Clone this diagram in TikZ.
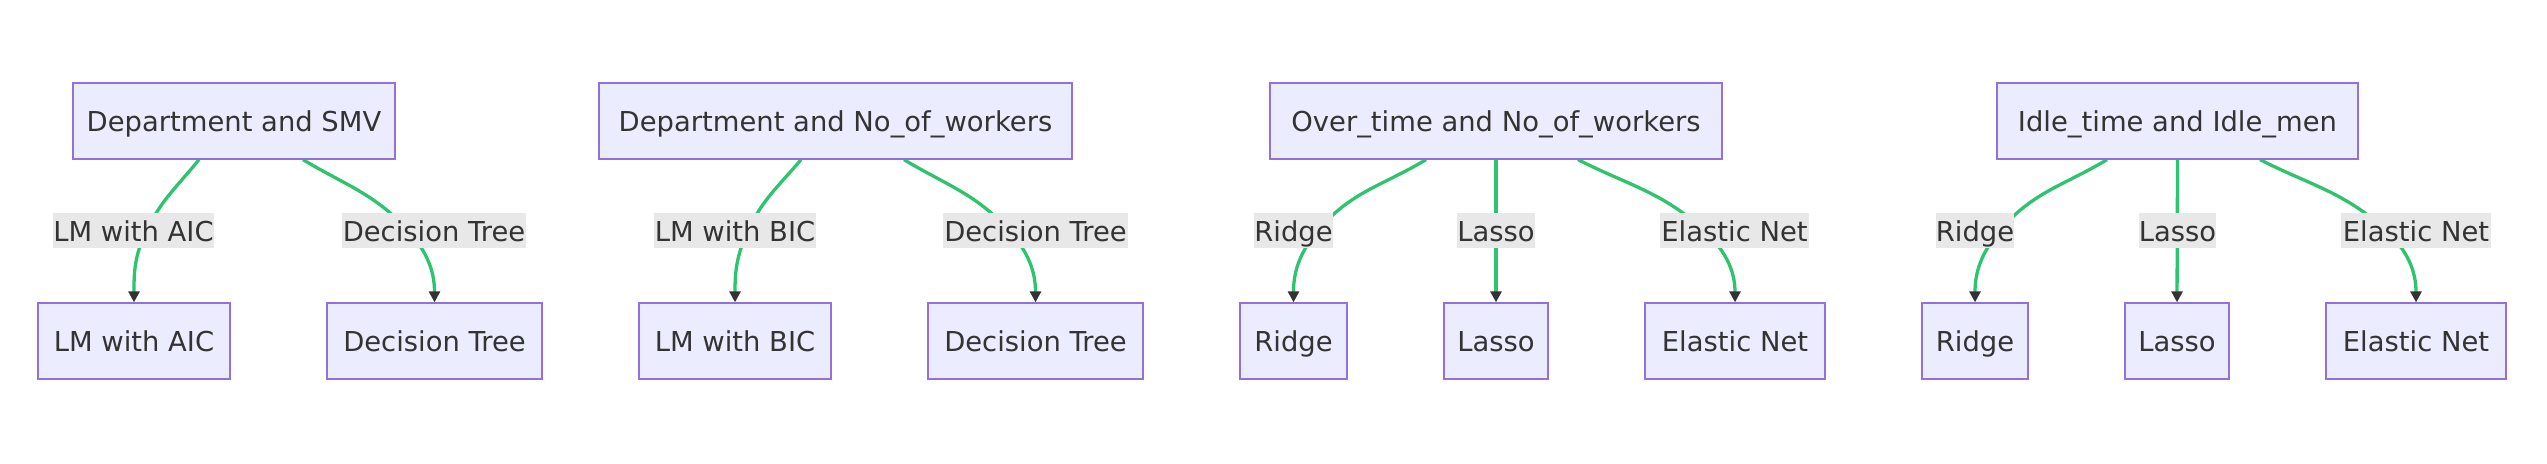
\documentclass[tikz,border=0pt]{standalone}
\usepackage{fontspec}
\setmainfont{DejaVu Sans}
\usetikzlibrary{arrows.meta,calc,backgrounds}
\definecolor{boxfill}{RGB}{236,236,255}
\definecolor{boxline}{RGB}{147,112,219}
\definecolor{edgegreen}{RGB}{46,196,110}
\definecolor{lblbg}{RGB}{232,232,232}
\definecolor{txt}{RGB}{51,51,51}
\begin{document}
\begin{tikzpicture}[x=0.5pt,y=-0.5pt,
  box/.style={draw=boxline, fill=boxfill, line width=0.65pt, minimum height=38pt, inner sep=0pt, text height=12.3pt, text depth=1.3pt, text=txt, font=\fontsize{13.7}{16}\selectfont},
  lbl/.style={fill=lblbg, minimum height=17.75pt, inner sep=0pt, text height=12.5pt, text depth=1.3pt, text=txt, font=\fontsize{13.7}{16}\selectfont},
  conn/.style={draw=edgegreen, line width=1.65pt, -{Triangle[length=5.5pt,width=5.5pt,color=txt]}}]
\useasboundingbox (0,0) rectangle (2547,464);
% top nodes
\node[box, minimum width=161pt]   (T1) at (234,121)    {Department and SMV};
\node[box, minimum width=236.5pt] (T2) at (835.5,121)  {Department and No\_of\_workers};
\node[box, minimum width=226pt]   (T3) at (1496,121)   {Over\_time and No\_of\_workers};
\node[box, minimum width=180.5pt] (T4) at (2177.5,121) {Idle\_time and Idle\_men};
% bottom nodes
\node[box, minimum width=96pt]    (B11) at (134,341)    {LM with AIC};
\node[box, minimum width=107.5pt] (B12) at (434.5,341)  {Decision Tree};
\node[box, minimum width=96pt]    (B21) at (735,341)    {LM with BIC};
\node[box, minimum width=107.5pt] (B22) at (1035.5,341) {Decision Tree};
\node[box, minimum width=53.5pt]  (B31) at (1293.5,341) {Ridge};
\node[box, minimum width=52pt]    (B32) at (1496,341)   {Lasso};
\node[box, minimum width=90pt]    (B33) at (1735,341)   {Elastic Net};
\node[box, minimum width=53pt]    (B41) at (1975,341)   {Ridge};
\node[box, minimum width=52pt]    (B42) at (2177,341)   {Lasso};
\node[box, minimum width=90pt]    (B43) at (2416,341)   {Elastic Net};
% edge labels
\node[lbl, minimum width=80.5pt] (L11) at (133.5,230.5)  {LM with AIC};
\node[lbl, minimum width=92pt]   (L12) at (434,230.5)    {Decision Tree};
\node[lbl, minimum width=81pt]   (L21) at (735,230.5)    {LM with BIC};
\node[lbl, minimum width=92.5pt] (L22) at (1035.5,230.5) {Decision Tree};
\node[lbl, minimum width=38.5pt] (L31) at (1293.5,230.5) {Ridge};
\node[lbl, minimum width=37pt]   (L32) at (1496,230.5)   {Lasso};
\node[lbl, minimum width=74.5pt] (L33) at (1734.5,230.5) {Elastic Net};
\node[lbl, minimum width=38pt]   (L41) at (1975,230.5)   {Ridge};
\node[lbl, minimum width=36.5pt] (L42) at (2177.5,230.5) {Lasso};
\node[lbl, minimum width=75pt]   (L43) at (2416,230.5)   {Elastic Net};
% connectors
\begin{scope}[on background layer]
\draw[conn] ($(T1.south)+(-35,0)$) to[out=231,in=64] ($(L11.center)+(13,0)$) to[out=244,in=90] (B11.north);
\draw[conn] ($(T1.south)+(69,0)$) to[out=329,in=132] ($(L12.center)+(-26,0)$) to[out=312,in=90] (B12.north);
\draw[conn] ($(T2.south)+(-34.5,0)$) to[out=230,in=65] ($(L21.center)+(13,0)$) to[out=245,in=90] (B21.north);
\draw[conn] ($(T2.south)+(68.5,0)$) to[out=329,in=132] ($(L22.center)+(-26.5,0)$) to[out=312,in=90] (B22.north);
\draw[conn] ($(T3.south)+(-70,0)$) to[out=211,in=50] ($(L31.center)+(24.5,0)$) to[out=230,in=90] (B31.north);
\draw[conn] (T3.south) -- (B32.north);
\draw[conn] ($(T3.south)+(82,0)$) to[out=333,in=137] ($(L33.center)+(-30.5,0)$) to[out=317,in=90] (B33.north);
\draw[conn] ($(T4.south)+(-70.5,0)$) to[out=211,in=50] ($(L41.center)+(25,0)$) to[out=230,in=90] (B41.north);
\draw[conn] (T4.south) -- (B42.north);
\draw[conn] ($(T4.south)+(82.5,0)$) to[out=333,in=137] ($(L43.center)+(-30,0)$) to[out=317,in=90] (B43.north);
\end{scope}
\end{tikzpicture}
\end{document}
